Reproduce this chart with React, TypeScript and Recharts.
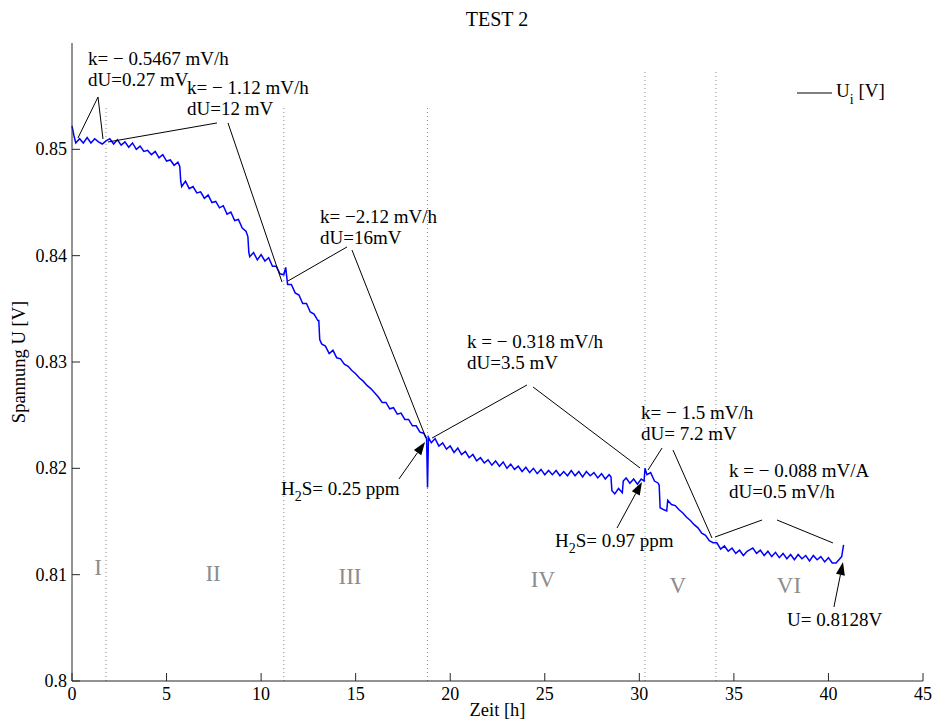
import { LineChart, Line, XAxis, YAxis, ReferenceLine, ReferenceDot } from "recharts";

const SERIF = "'Liberation Serif', 'Times New Roman', serif";

// Endwert der Messung (auch als Beschriftung verwendet)
const uEnde = 0.8128;

// Messzeit in h
const zeit = [
  0, 0.1, 0.2, 0.4, 0.6, 0.8, 1.0, 1.2, 1.4, 1.6, 1.8,
  2.0, 2.2, 2.4, 2.6, 2.8, 3.0, 3.2, 3.4, 3.6, 3.8, 4.0, 4.2, 4.4, 4.6, 4.8, 5.0, 5.2, 5.4, 5.6, 5.7,
  5.75, 5.8, 6.0, 6.2, 6.4, 6.6, 6.8, 7.0, 7.2, 7.4, 7.6, 7.8, 8.0, 8.2, 8.4, 8.6, 8.8, 9.0, 9.2, 9.3,
  9.35, 9.4, 9.6, 9.8, 10.0, 10.2, 10.4, 10.6, 10.8, 11.0, 11.2,
  11.3, 11.4, 11.6, 11.8, 12.0, 12.2, 12.4, 12.6, 12.8, 13.0, 13.05,
  13.1, 13.2, 13.4, 13.6, 13.8, 14.0, 14.2, 14.4, 14.6, 14.8, 15.0, 15.2, 15.4, 15.6, 15.8, 16.0,
  16.2, 16.4, 16.6, 16.8, 17.0, 17.2, 17.4, 17.6, 17.8, 18.0, 18.2, 18.4, 18.6, 18.75, 18.8, 18.85,
  19.0, 19.2, 19.4, 19.6, 19.8, 20.0, 20.2, 20.4, 20.6, 20.8, 21.0, 21.2, 21.4, 21.6, 21.8, 22.0,
  22.2, 22.4, 22.6, 22.8, 23.0, 23.2, 23.4, 23.6, 23.8, 24.0, 24.2, 24.4, 24.6, 24.8, 25.0, 25.2,
  25.4, 25.6, 25.8, 26.0, 26.2, 26.4, 26.6, 26.8, 27.0, 27.2, 27.4, 27.6, 27.8, 28.0, 28.2, 28.4, 28.5,
  28.55, 28.7, 28.9, 29.1, 29.15, 29.3, 29.5, 29.7, 29.9, 30.1, 30.25, 30.3,
  30.4, 30.6, 30.8, 31.0, 31.05, 31.1, 31.3, 31.45, 31.5, 31.7, 31.9, 32.1, 32.3, 32.5, 32.7, 32.9,
  33.1, 33.3, 33.5, 33.7, 33.9, 34.1,
  34.3, 34.5, 34.7, 34.9, 35.1, 35.3, 35.5, 35.7, 35.9, 36.0, 36.2, 36.4, 36.6, 36.8, 37.0, 37.2,
  37.4, 37.6, 37.8, 38.0, 38.2, 38.4, 38.6, 38.8, 39.0, 39.2, 39.4, 39.6, 39.8, 40.0, 40.2, 40.4,
  40.6, 40.7, 40.8,
];

// Zellspannung U_i in V
const spannung = [
  0.8522, 0.8513, 0.8506, 0.851, 0.8506, 0.8511, 0.8506, 0.851, 0.8507, 0.8505, 0.8508,
  0.851, 0.8505, 0.8509, 0.8504, 0.8507, 0.8502, 0.8506, 0.85, 0.8503, 0.8498, 0.8499, 0.8495, 0.8498, 0.8492, 0.8495, 0.8489, 0.849, 0.8485, 0.8488, 0.8484,
  0.847, 0.8465, 0.847, 0.8463, 0.8465, 0.8459, 0.846, 0.8454, 0.8457, 0.845, 0.8451, 0.8445, 0.8447, 0.8439, 0.8441, 0.8433, 0.8434, 0.8426, 0.8423, 0.8418,
  0.8403, 0.8399, 0.8403, 0.8396, 0.8401, 0.8395, 0.8398, 0.839, 0.839, 0.8383, 0.8382,
  0.8389, 0.8373, 0.8373, 0.8365, 0.8363, 0.8355, 0.8355, 0.8347, 0.8345, 0.8339, 0.8339,
  0.8321, 0.8317, 0.8315, 0.8308, 0.8311, 0.8304, 0.8303, 0.8298, 0.8296, 0.8292, 0.8289, 0.8285, 0.8282, 0.8278, 0.8275, 0.8271,
  0.8267, 0.8262, 0.8262, 0.8256, 0.8257, 0.8251, 0.8252, 0.8246, 0.8246, 0.824, 0.824, 0.8234, 0.8233, 0.8228, 0.8182, 0.8229,
  0.8224, 0.8228, 0.8221, 0.8224, 0.8218, 0.8221, 0.8215, 0.8219, 0.8213, 0.8216, 0.821, 0.8213, 0.8207, 0.821, 0.8205, 0.8208,
  0.8203, 0.8207, 0.8202, 0.8206, 0.82, 0.8204, 0.8199, 0.8202, 0.8197, 0.8201, 0.8196, 0.82, 0.8195, 0.8199, 0.8194, 0.8198,
  0.8194, 0.8198, 0.8193, 0.8197, 0.8193, 0.8198, 0.8193, 0.8197, 0.8192, 0.8197, 0.8193, 0.8196, 0.8191, 0.8195, 0.819, 0.8194, 0.8192,
  0.8179, 0.8176, 0.8181, 0.8177, 0.8188, 0.8191, 0.8186, 0.819, 0.8185, 0.819, 0.8188, 0.82,
  0.8194, 0.8196, 0.8188, 0.8186, 0.8184, 0.8163, 0.8161, 0.816, 0.817, 0.8166, 0.8165, 0.8161, 0.8158, 0.8154, 0.8151, 0.8147,
  0.8144, 0.8139, 0.8137, 0.8132, 0.813, 0.813,
  0.8124, 0.8127, 0.8122, 0.8125, 0.812, 0.8123, 0.8118, 0.8122, 0.8124, 0.8125, 0.812, 0.8123, 0.8118, 0.8122, 0.8117, 0.8121,
  0.8116, 0.812, 0.8115, 0.8119, 0.8114, 0.8119, 0.8115, 0.8118, 0.8113, 0.8118, 0.8114, 0.8117, 0.8112, 0.8116, 0.8111, 0.8111,
  0.8115, 0.8117, uEnde,
];

const xTicks = [0, 5, 10, 15, 20, 25, 30, 35, 40, 45];
const yTicks = [0.8, 0.81, 0.82, 0.83, 0.84, 0.85];

// Abschnittsgrenzen (h) und Abschnittsnamen
const grenzen = [1.8, 11.2, 18.8, 30.3, 34.05];
const grenzenOben = [0.854, 0.854, 0.854, 0.8575, 0.8575];
const phasen = ["I", "II", "III", "IV", "V", "VI"];
const phasenX = [1.375, 7.46, 14.7, 24.9, 32.04, 37.91];
const phasenY = [0.80997, 0.8094, 0.80912, 0.80884, 0.80828, 0.80828];

const data = zeit.map((h, i) => ({ h, u: spannung[i] }));

// Steigungen je Abschnitt: Text + Hilfslinien
const steigungen = [
  { x: 0.846, y: 0.85793, zeilen: ["k= \u2212 0.5467 mV/h", "dU=0.27 mV"],
    linien: [[[1.375, 0.85492], [0.317, 0.85107]], [[1.375, 0.85492], [1.639, 0.85097]]] },
  { x: 6.08, y: 0.85521, zeilen: ["k= \u2212 1.12 mV/h", "dU=12 mV"],
    linien: [[[7.667, 0.85248], [1.904, 0.85069]], [[8.249, 0.85248], [11.105, 0.83752]]] },
  { x: 13.12, y: 0.84307, zeilen: ["k= \u22122.12 mV/h", "dU=16mV"],
    linien: [[[14.542, 0.84082], [11.422, 0.83762]], [[14.806, 0.84053], [18.719, 0.82285]]] },
  { x: 20.89, y: 0.83132, zeilen: ["k = \u2212 0.318 mV/h", "dU=3.5 mV"],
    linien: [[[24.06, 0.82784], [19.04, 0.82285]], [[24.38, 0.82765], [30.04, 0.82003]]] },
  { x: 30.09, y: 0.82464, zeilen: ["k= \u2212 1.5 mV/h", "dU= 7.2 mV"],
    linien: [[[31.2, 0.82191], [30.46, 0.81984]], [[31.78, 0.82172], [33.84, 0.81345]]] },
  { x: 34.74, y: 0.81919, zeilen: ["k = \u2212 0.088 mV/A", "dU=0.5 mV/h"],
    linien: [[[36.49, 0.81514], [34.0, 0.81354]], [[37.28, 0.81514], [40.24, 0.81298]]] },
];

// Pfeile: Textposition, Pfeilanfang, Pfeilspitze
const pfeile = [
  { x: 11.05, y: 0.81749, text: "h2s", wert: "0.25 ppm", von: [17.29, 0.819], nach: [18.67, 0.82248] },
  { x: 25.54, y: 0.8126, text: "h2s", wert: "0.97 ppm", von: [28.82, 0.81439], nach: [30.14, 0.81872] },
  { x: 37.81, y: 0.80517, text: "u", wert: `${uEnde}V`, von: [40.29, 0.80696], nach: [40.77, 0.81119] },
];

const XTick = ({ x, y, payload }: any) => (
  <g>
    <line x1={x} y1={y} x2={x} y2={y - 8} stroke="#262626" />
    <text x={x} y={y + 19} textAnchor="middle" fontFamily={SERIF} fontSize={18} fill="#000">
      {payload.value}
    </text>
  </g>
);

const YTick = ({ x, y, payload }: any) => (
  <g>
    <line x1={x} y1={y} x2={x + 8} y2={y} stroke="#262626" />
    <text x={x - 5} y={y + 6} textAnchor="end" fontFamily={SERIF} fontSize={18} fill="#000">
      {String(payload.value)}
    </text>
  </g>
);

const Pfeil = (p: any) => {
  const { x1, y1, x2, y2 } = p;
  const a = Math.atan2(y2 - y1, x2 - x1);
  const len = 13;
  const half = 4.5;
  const bx = x2 - len * Math.cos(a);
  const by = y2 - len * Math.sin(a);
  const pts = [
    `${x2},${y2}`,
    `${bx + half * Math.sin(a)},${by - half * Math.cos(a)}`,
    `${bx - half * Math.sin(a)},${by + half * Math.cos(a)}`,
  ].join(" ");
  return (
    <g>
      <line x1={x1} y1={y1} x2={bx} y2={by} stroke="#000" strokeWidth={1} />
      <polygon points={pts} fill="#000" />
    </g>
  );
};

const textShape = (zeilen: string[]) => (p: any) => (
  <text x={p.cx} y={p.cy} fontFamily={SERIF} fontSize={19} fill="#000">
    {zeilen.map((z, i) => (
      <tspan key={i} x={p.cx} dy={i === 0 ? 0 : 21}>
        {z}
      </tspan>
    ))}
  </text>
);

const pfeilText = (art: string, wert: string) => (p: any) => (
  <text x={p.cx} y={p.cy} fontFamily={SERIF} fontSize={19} fill="#000">
    {art === "h2s" ? (
      <>
        <tspan>H</tspan>
        <tspan dy={6} fontSize={14}>2</tspan>
        <tspan dy={-6}>S= {wert}</tspan>
      </>
    ) : (
      <tspan>U= {wert}</tspan>
    )}
  </text>
);

const phaseShape = (name: string) => (p: any) => (
  <text x={p.cx} y={p.cy} textAnchor="middle" fontFamily={SERIF} fontSize={23} fill="#8c8c8c">
    {name}
  </text>
);

export default function App() {
  return (
    <div style={{ position: "absolute", left: 0, top: 0, width: 936, height: 724, background: "#fff" }}>
      <div
        style={{
          position: "absolute", left: 0, top: 9, width: 994, textAlign: "center",
          fontFamily: SERIF, fontSize: 20, lineHeight: "20px",
        }}
      >
        TEST 2
      </div>
      <LineChart width={936} height={724} data={data} margin={{ top: 43, right: 13, bottom: 0, left: 0 }}>
        <XAxis
          type="number"
          dataKey="h"
          domain={[0, 45]}
          ticks={xTicks}
          height={43}
          tickSize={0}
          tickMargin={0}
          tickLine={false}
          tick={<XTick />}
          axisLine={{ stroke: "#262626" }}
          label={(props: any) => {
            const vb = props.viewBox;
            return (
              <text x={vb.x + vb.width / 2} y={vb.y + 35} textAnchor="middle" fontFamily={SERIF} fontSize={18.5}>
                Zeit [h]
              </text>
            );
          }}
        />
        <YAxis
          type="number"
          domain={[0.8, 0.86]}
          ticks={yTicks}
          width={72}
          tickSize={0}
          tickMargin={0}
          tickLine={false}
          tick={<YTick />}
          axisLine={{ stroke: "#262626" }}
          label={(props: any) => {
            const vb = props.viewBox;
            const cy = vb.y + vb.height / 2;
            return (
              <text
                transform={`translate(${vb.x + 25},${cy}) rotate(-90)`}
                textAnchor="middle"
                fontFamily={SERIF}
                fontSize={18.5}
              >
                Spannung U [V]
              </text>
            );
          }}
        />

        {grenzen.map((g, i) => (
          <ReferenceLine
            key={`g${i}`}
            segment={[{ x: g, y: 0.8 }, { x: g, y: grenzenOben[i] }]}
            stroke="#8c8c8c"
            strokeDasharray="1 3"
            ifOverflow="visible"
          />
        ))}

        {phasen.map((n, i) => (
          <ReferenceDot key={n} x={phasenX[i]} y={phasenY[i]} r={0} shape={phaseShape(n)} ifOverflow="visible" />
        ))}

        <Line
          type="linear"
          dataKey="u"
          stroke="#0000ff"
          strokeWidth={1.5}
          dot={false}
          isAnimationActive={false}
        />

        {steigungen.flatMap((s, i) =>
          s.linien.map((l, j) => (
            <ReferenceLine
              key={`s${i}-${j}`}
              segment={[{ x: l[0][0], y: l[0][1] }, { x: l[1][0], y: l[1][1] }]}
              stroke="#000"
              strokeWidth={1}
              ifOverflow="visible"
            />
          ))
        )}
        {steigungen.map((s, i) => (
          <ReferenceDot key={`t${i}`} x={s.x} y={s.y} r={0} shape={textShape(s.zeilen)} ifOverflow="visible" />
        ))}

        {pfeile.map((p, i) => (
          <ReferenceLine
            key={`p${i}`}
            segment={[{ x: p.von[0], y: p.von[1] }, { x: p.nach[0], y: p.nach[1] }]}
            shape={Pfeil}
            ifOverflow="visible"
          />
        ))}
        {pfeile.map((p, i) => (
          <ReferenceDot key={`pt${i}`} x={p.x} y={p.y} r={0} shape={pfeilText(p.text, p.wert)} ifOverflow="visible" />
        ))}
      </LineChart>

      <svg style={{ position: "absolute", left: 790, top: 78 }} width={110} height={32}>
        <line x1={7} y1={15} x2={42} y2={15} stroke="#000" strokeWidth={1} />
        <text x={46} y={19} fontFamily={SERIF} fontSize={19}>
          <tspan>U</tspan>
          <tspan dy={7} fontSize={14}>i</tspan>
          <tspan dy={-7}> [V]</tspan>
        </text>
      </svg>
    </div>
  );
}
